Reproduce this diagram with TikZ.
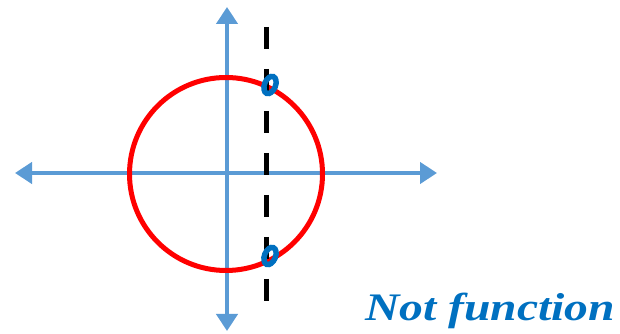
\documentclass[tikz,border=0pt]{standalone}
\usepackage{fontspec}
\setmainfont{Liberation Serif}
\usepackage{tikz}
\usetikzlibrary{arrows.meta,positioning,calc}
\definecolor{AxisBlue}{HTML}{5B9BD5}
\definecolor{MarkBlue}{HTML}{0070C0}
\definecolor{CircRed}{HTML}{FF0000}

\begin{document}
\begin{tikzpicture}[x=1pt,y=1pt,
  axis/.style={AxisBlue,line width=4.5pt,-{Triangle[length=17pt,width=21pt]}},
  hit/.style={MarkBlue,line width=5.5pt}]
  \useasboundingbox (0,0) rectangle (620,334);
  \coordinate (o) at (227,161);
  \coordinate (xl) at (15,161);
  \coordinate (xr) at (437,161);
  \coordinate (yt) at (227,327);
  \coordinate (yb) at (227,3);
  \draw[axis] (o) -- (xl);
  \draw[axis] (o) -- (xr);
  \draw[axis] (o) -- (yt);
  \draw[axis] (o) -- (yb);
  \node[circle,draw=CircRed,line width=5pt,minimum size=193pt,inner sep=0pt] (unit) at (226,160) {};
  \coordinate (vtop) at (266,307);
  \coordinate (vbot) at (266,33);
  \draw[black,line width=5pt,dash pattern=on 22pt off 20pt] (vtop) -- (vbot);
  \foreach \y in {249,78}
    \draw[hit,rotate around={-22:(270,\y)}] (270,\y) ellipse (5.5pt and 9pt);
  \node[anchor=base west,inner sep=0pt,text=MarkBlue,xscale=1.22,font=\fontsize{39}{42}\selectfont\bfseries\itshape] (note) at (365,13) {Not function};
\end{tikzpicture}
\end{document}
